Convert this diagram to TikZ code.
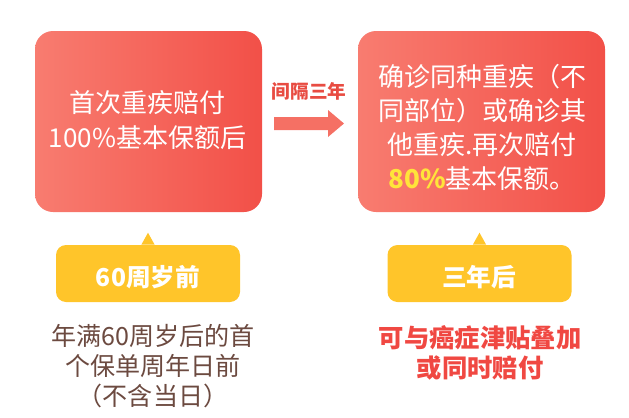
\documentclass[tikz,border=0pt]{standalone}
\usepackage{fontspec}
\setmainfont{Noto Sans CJK SC}
\definecolor{boxL}{RGB}{248,124,112}
\definecolor{boxR}{RGB}{242,80,72}
\definecolor{callY}{RGB}{255,197,42}
\definecolor{brownT}{RGB}{108,74,64}
\definecolor{redT}{RGB}{240,72,66}
\definecolor{yelT}{RGB}{255,228,58}
\definecolor{arrowC}{RGB}{245,112,100}
\definecolor{lblC}{RGB}{232,76,66}
\tikzset{
  redbox/.style={rounded corners=13.5pt, left color=boxL, right color=boxR, draw=none, minimum height=135.75pt, inner sep=0pt},
  boxtext/.style={text=white, align=center, font=\fontsize{19.5}{26}\selectfont, inner sep=0pt},
  callout/.style={fill=callY, rounded corners=7.5pt, minimum height=42.75pt, minimum width=138pt, inner sep=0pt},
  calltext/.style={text=white, inner sep=0pt, font=\fontsize{18.5}{22}\selectfont\bfseries},
  pointer/.style={fill=callY},
  note/.style={align=center, inner sep=0pt}
}
\begin{document}
\begin{tikzpicture}[x=0.75pt,y=-0.75pt]
\useasboundingbox (0,0) rectangle (629,418);
% main boxes
\node[redbox, minimum width=170.25pt] (b1) at (148.5,121.5) {};
\node[redbox, minimum width=185.25pt] (b2) at (481.5,121.5) {};
\node[boxtext] (t1) at (147.5,120) {首次重疾赔付\\100\%基本保额后};
\node[boxtext, font=\fontsize{19.5}{25.5}\selectfont] (t2) at (482,127) {确诊同种重疾（不\\同部位）或确诊其\\他重疾.再次赔付\\{\color{yelT}\bfseries 80\%}基本保额。};
% arrow between boxes
\coordinate (arr) at (274,124);
\fill[arrowC] (arr) ++(0,-7) -- ++(54,0) -- ++(0,-7) -- ++(16,13.5) -- ++(-16,13.5) -- ++(0,-7) -- ++(-54,0) -- cycle;
\node[text=lblC, font=\fontsize{14}{16}\selectfont\bfseries, inner sep=0pt] (lbl) at (309,91) {间隔三年};
% callouts
\node[callout] (c1) at (148,273.5) {};
\node[callout] (c2) at (479.5,273.5) {};
\fill[pointer] ([xshift=-5pt]c1.north) -- ([yshift=9pt]c1.north) -- ([xshift=5pt]c1.north) -- cycle;
\fill[pointer] ([xshift=-5pt]c2.north) -- ([yshift=9pt]c2.north) -- ([xshift=5pt]c2.north) -- cycle;
\node[calltext] (ct1) at (148,277) {60周岁前};
\node[calltext] (ct2) at (479,277) {三年后};
% notes
\node[note, text=brownT, font=\fontsize{18.8}{22.5}\selectfont] (n1) at (153,366) {年满60周岁后的首\\个保单周年日前\\（不含当日）};
\node[note, text=redT, font=\fontsize{19}{22.5}\selectfont\bfseries] (n2) at (480,353) {可与癌症津贴叠加\\或同时赔付};
\end{tikzpicture}
\end{document}
